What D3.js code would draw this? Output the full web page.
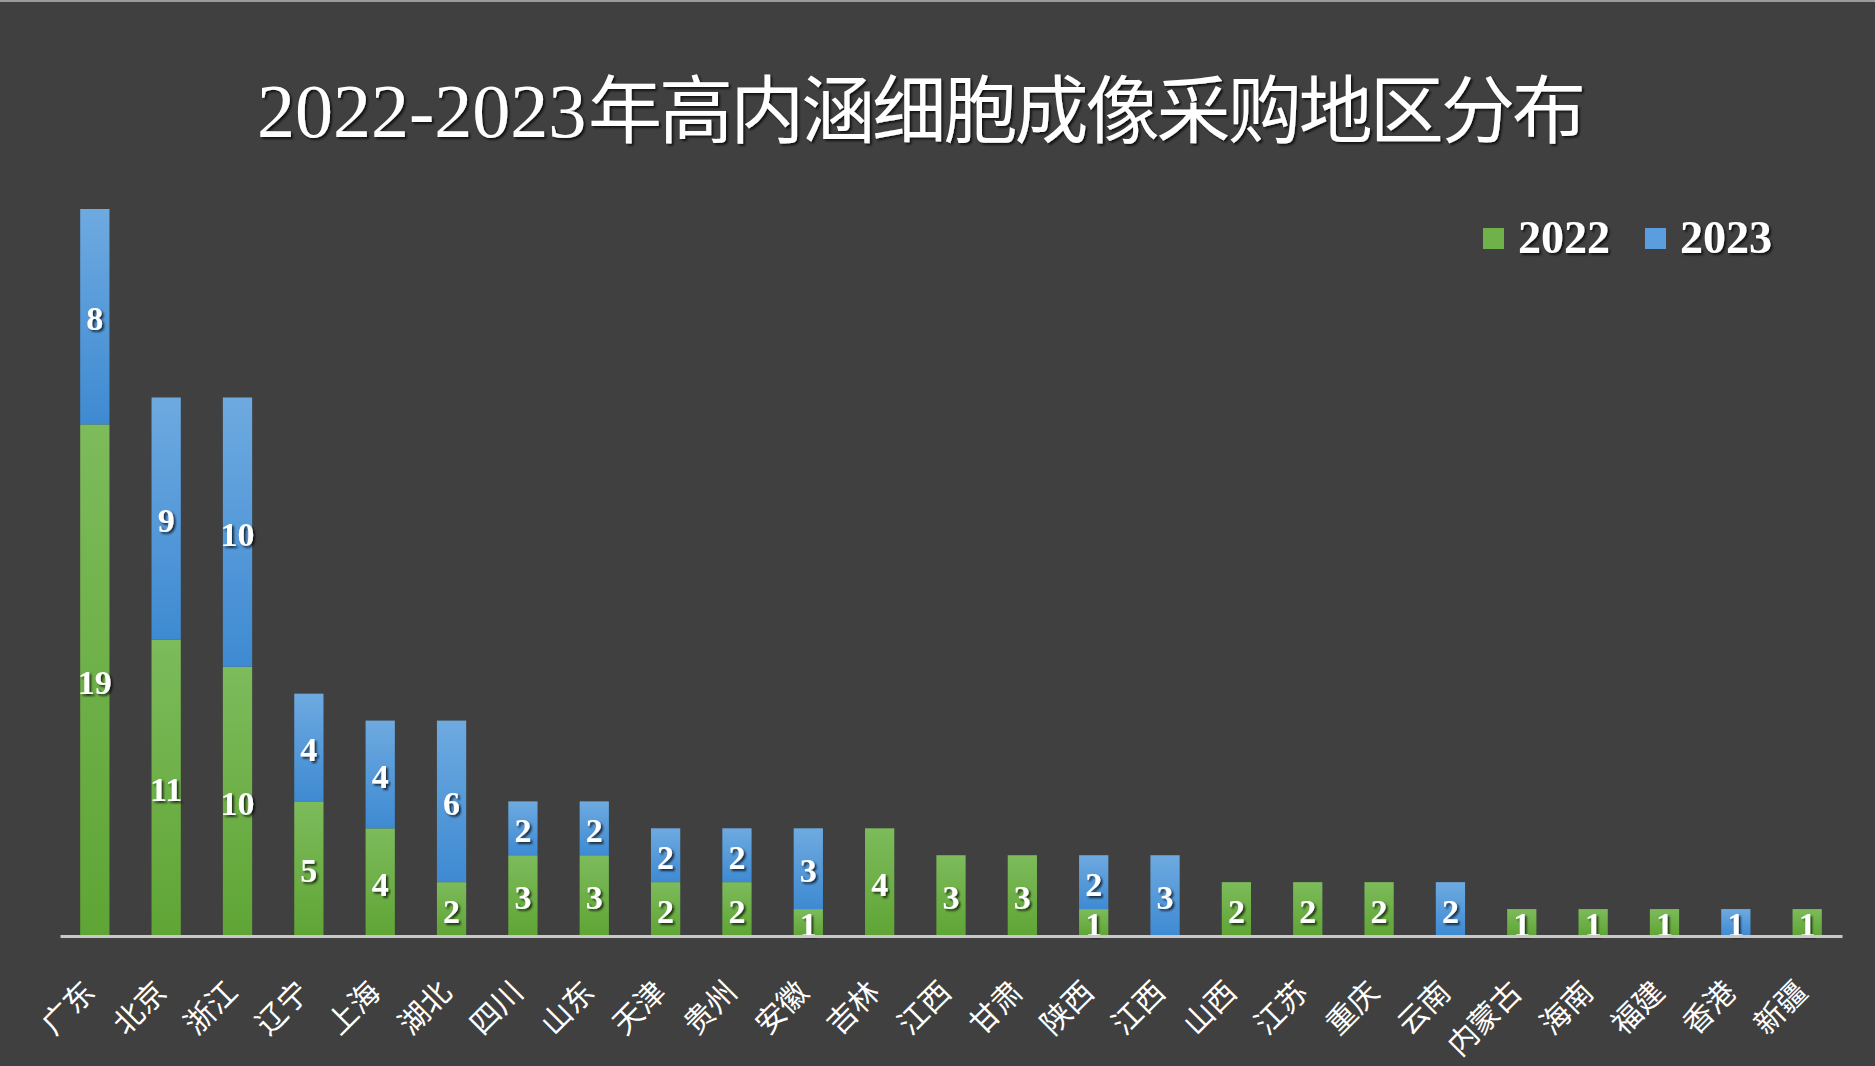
<!DOCTYPE html>
<html><head><meta charset="utf-8">
<script src="https://cdn.jsdelivr.net/npm/d3@7"></script>
<style>html,body{margin:0;padding:0;background:#404040;}svg{display:block;}</style>
</head><body>
<svg id="chart" width="1875" height="1066"></svg>
<script>
const categories = ["广东","北京","浙江","辽宁","上海","湖北","四川","山东","天津","贵州","安徽","吉林","江西","甘肃","陕西","江西","山西","江苏","重庆","云南","内蒙古","海南","福建","香港","新疆"];
const values2022 = [19,11,10,5,4,2,3,3,2,2,1,4,3,3,1,0,2,2,2,0,1,1,1,0,1];
const values2023 = [8,9,10,4,4,6,2,2,2,2,3,0,0,0,2,3,0,0,0,2,0,0,0,1,0];
const seriesNames = ["2022","2023"];
const titleYears = "2022-2023";
const titleText = "年高内涵细胞成像采购地区分布";

const W = 1875, H = 1066;
const svg = d3.select("#chart");
svg.append("rect").attr("width", W).attr("height", H).attr("fill", "#404040");
svg.append("rect").attr("width", W).attr("height", 2).attr("fill", "#9c9c9c");

const defs = svg.append("defs");
const g1 = defs.append("linearGradient").attr("id","gGreen").attr("x1",0).attr("y1",0).attr("x2",0).attr("y2",1);
g1.append("stop").attr("offset","0%").attr("stop-color","#7dbb5b");
g1.append("stop").attr("offset","100%").attr("stop-color","#5fa535");
const g2 = defs.append("linearGradient").attr("id","gBlue").attr("x1",0).attr("y1",0).attr("x2",0).attr("y2",1);
g2.append("stop").attr("offset","0%").attr("stop-color","#6eaae0");
g2.append("stop").attr("offset","100%").attr("stop-color","#3e8ad2");
const f = defs.append("filter").attr("id","tshadow").attr("x","-10%").attr("y","-10%").attr("width","120%").attr("height","130%");
f.append("feDropShadow").attr("dx",2).attr("dy",2).attr("stdDeviation",1).attr("flood-color","#000").attr("flood-opacity",0.7);

const idx = categories.map((d,i)=>i);
const x = d3.scaleBand().domain(idx).range([60, 1842]).paddingInner(0.59).paddingOuter(0.283);
const rows = idx.map(i => ({i, a: values2022[i], b: values2023[i]}));
const stack = d3.stack().keys(["a","b"])(rows);
const y = d3.scaleLinear().domain([0, d3.max(rows, r => r.a + r.b)]).range([936, 209]);
const fills = ["url(#gGreen)", "url(#gBlue)"];

stack.forEach((layer, k) => {
  const g = svg.append("g");
  g.selectAll("rect").data(layer.filter(d => d[1] > d[0])).join("rect")
    .attr("x", d => x(d.data.i)).attr("width", x.bandwidth())
    .attr("y", d => y(d[1])).attr("height", d => y(d[0]) - y(d[1]))
    .attr("fill", fills[k]);
  g.selectAll("text").data(layer.filter(d => d[1] > d[0])).join("text")
    .attr("x", d => x(d.data.i) + x.bandwidth()/2)
    .attr("y", d => (y(d[0]) + y(d[1]))/2 + 2)
    .attr("text-anchor","middle").attr("dominant-baseline","central")
    .attr("font-family","'Liberation Serif', serif").attr("font-weight","bold")
    .attr("font-size", 34).attr("fill","#fff")
    .attr("filter","url(#tshadow)")
    .text(d => d[1] - d[0]);
});

// axis
const xAxis = d3.axisBottom(x).tickSize(0).tickFormat(i => categories[i]);
const ax = svg.append("g").attr("transform","translate(0,936)").call(xAxis);
ax.select(".domain").attr("stroke","#c8c8c8").attr("stroke-width",3);
ax.selectAll(".tick text")
  .attr("font-family","'Noto Sans CJK SC', sans-serif").attr("font-size",30).attr("fill","#fff")
  .attr("text-anchor","end").attr("dy",null).attr("y",null)
  .attr("transform","translate(2,58) rotate(-45)");

// title
const tg = svg.append("g").attr("fill","#fff").attr("filter","url(#tshadow)");
tg.append("text").attr("x", 257).attr("y", 137)
  .attr("font-family","'Liberation Serif', serif").attr("font-size",76).text(titleYears);
tg.append("text").attr("x", 588).attr("y", 137)
  .attr("font-family","'Noto Sans CJK SC', sans-serif").attr("font-size",74)
  .attr("textLength", 998).attr("lengthAdjust","spacing").text(titleText);

// legend
const legColors = ["#6fb24a","#5b9ee0"];
const legX = [1483, 1645];
seriesNames.forEach((s,k) => {
  svg.append("rect").attr("x", legX[k]).attr("y", 228).attr("width", 21).attr("height", 21).attr("fill", legColors[k]);
  svg.append("text").attr("x", legX[k] + 35).attr("y", 253)
    .attr("font-family","'Liberation Serif', serif").attr("font-weight","bold").attr("font-size",46)
    .attr("fill","#fff").attr("filter","url(#tshadow)").text(s);
});
</script>
</body></html>
